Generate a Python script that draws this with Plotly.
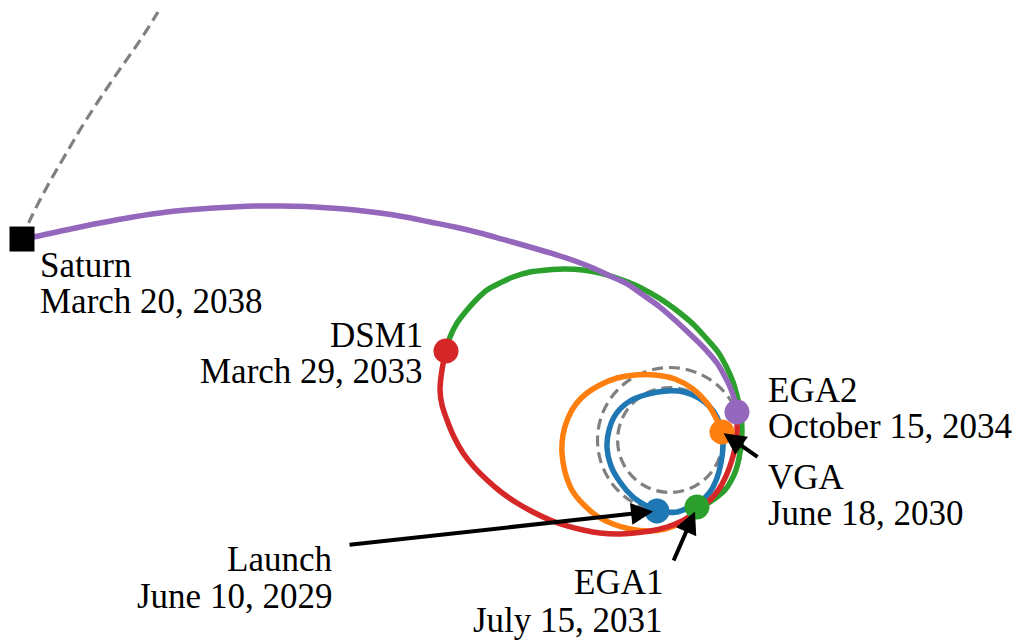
import plotly.graph_objects as go

# ---------------- data (heliocentric, AU) ----------------
EVENT_NAMES = ["Launch", "VGA", "EGA1", "DSM1", "EGA2", "Saturn"]
EVENT_DATES = ["June 10, 2029", "June 18, 2030", "July 15, 2031",
               "March 29, 2033", "October 15, 2034", "March 20, 2038"]
EVENT_X = [-0.179, 0.717, 0.372, -3.090, 0.924, -8.938]
EVENT_Y = [-0.979, 0.110, -0.924, 1.228, 0.386, 2.772]

ORBIT_NAMES = ["Venus", "Earth"]
ORBIT_RADII = [0.723, 1.0]

SATURN_ARC_X = [-8.938, -8.828, -8.676, -8.510, -8.317, -8.097, -7.848, -7.586, -7.324, -7.062]
SATURN_ARC_Y = [2.772, 3.034, 3.338, 3.641, 3.972, 4.345, 4.731, 5.117, 5.490, 5.903]

# Launch -> VGA
LEG1_X = [-0.179, 0.097, 0.276, 0.414, 0.552, 0.648, 0.703, 0.731, 0.717, 0.648, 0.538, 0.400,
          0.193, -0.041, -0.303, -0.552, -0.745, -0.841, -0.869, -0.814, -0.690, -0.510, -0.345,
          -0.179, 0.097, 0.276, 0.414, 0.552, 0.648, 0.703, 0.731, 0.717]
LEG1_Y = [-0.979, -0.993, -0.924, -0.855, -0.717, -0.524, -0.317, -0.097, 0.110, 0.317, 0.469, 0.579,
          0.662, 0.676, 0.634, 0.538, 0.359, 0.138, -0.110, -0.359, -0.579, -0.786, -0.897,
          -0.979, -0.993, -0.924, -0.855, -0.717, -0.524, -0.317, -0.097, 0.110]

# VGA -> EGA1
LEG2_X = [0.717, 0.634, 0.510, 0.317, 0.069, -0.207, -0.483, -0.731, -0.966, -1.145, -1.297,
          -1.407, -1.476, -1.490, -1.448, -1.352, -1.200, -1.007, -0.786, -0.552, -0.303,
          -0.069, 0.138, 0.276, 0.372]
LEG2_Y = [0.110, 0.303, 0.510, 0.703, 0.841, 0.897, 0.897, 0.855, 0.759, 0.648, 0.497,
          0.303, 0.069, -0.179, -0.441, -0.690, -0.883, -1.048, -1.159, -1.228, -1.255,
          -1.228, -1.145, -1.048, -0.924]

# EGA1 -> DSM1
LEG3_X = [0.372, 0.524, 0.648, 0.759, 0.841, 0.910, 0.952, 0.979, 0.993, 0.979, 0.938, 0.869,
          0.772, 0.662, 0.497, 0.317, 0.138, -0.028, -0.248, -0.483, -0.731, -0.966, -1.200,
          -1.448, -1.697, -1.931, -2.166, -2.345, -2.524, -2.662, -2.800, -2.938, -3.034, -3.090]
LEG3_Y = [-0.924, -0.869, -0.786, -0.690, -0.566, -0.414, -0.248, -0.069, 0.138, 0.345, 0.552, 0.800,
          1.021, 1.214, 1.407, 1.600, 1.752, 1.876, 2.014, 2.138, 2.234, 2.303, 2.345,
          2.359, 2.345, 2.317, 2.248, 2.166, 2.069, 1.945, 1.793, 1.614, 1.421, 1.228]

# DSM1 -> EGA2
LEG4_X = [-3.090, -3.145, -3.172, -3.145, -3.076, -2.979, -2.855, -2.703, -2.524, -2.331, -2.110,
          -1.890, -1.655, -1.421, -1.200, -0.966, -0.731, -0.497, -0.276, -0.041, 0.166, 0.317,
          0.441, 0.566, 0.676, 0.772, 0.841, 0.897, 0.924, 0.924, 0.924]
LEG4_Y = [1.228, 0.966, 0.690, 0.483, 0.276, 0.041, -0.179, -0.372, -0.552, -0.717, -0.869,
          -0.993, -1.103, -1.186, -1.241, -1.283, -1.297, -1.283, -1.255, -1.200, -1.117, -1.021,
          -0.924, -0.814, -0.676, -0.497, -0.317, -0.110, 0.097, 0.276, 0.386]

# EGA2 -> Saturn
LEG5_X = [0.924, 0.883, 0.828, 0.745, 0.648, 0.497, 0.317, 0.097, -0.138, -0.372, -0.593, -0.828,
          -1.062, -1.310, -1.517, -1.931, -2.276, -2.621, -2.966, -3.310, -3.655, -4.000, -4.345,
          -4.690, -5.034, -5.379, -5.724, -6.028, -6.483, -6.938, -7.407, -7.862, -8.331, -8.786,
          -8.938]
LEG5_Y = [0.386, 0.579, 0.731, 0.897, 1.062, 1.241, 1.421, 1.628, 1.834, 2.000, 2.152, 2.262,
          2.372, 2.469, 2.538, 2.662, 2.759, 2.855, 2.938, 3.007, 3.076, 3.131, 3.172,
          3.200, 3.221, 3.228, 3.228, 3.214, 3.186, 3.145, 3.076, 2.993, 2.897, 2.800,
          2.772]

LEGS_X = [LEG1_X, LEG2_X, LEG3_X, LEG4_X, LEG5_X]
LEGS_Y = [LEG1_Y, LEG2_Y, LEG3_Y, LEG4_Y, LEG5_Y]

# ---------------- styles ----------------
LEG_COLORS = ["#1f77b4", "#ff7f0e", "#2ca02c", "#d62728", "#9467bd"]
EVENT_COLORS = ["#1f77b4", "#ff7f0e", "#2ca02c", "#d62728", "#9467bd", "#000000"]
EVENT_SYMBOLS = ["circle"] * 5 + ["square"]
EVENT_SIZES = [25] * 5 + [25]
GRAY = "#808080"
DASH = "11px,6px"
FONT = dict(family="Liberation Serif, Times New Roman, serif", size=35, color="black")

# label placement (xanchor, xshift, yshift line 1, yshift line 2) in pixels from the event marker
LABEL_POS = {
    "Launch": ("right", -323, -49, -86),
    "VGA": ("left", 44, -45, -81),
    "EGA1": ("right", -32, -76, -114),
    "DSM1": ("right", -21, 15, -21),
    "EGA2": ("left", 29, 22, -14),
    "Saturn": ("left", 16, -26, -62),
}
# arrows (ax, ay, standoff) in pixels
ARROWS = {
    "Launch": (-309, 34, 4),
    "VGA": (37, 26, 2),
    "EGA1": (-24, 55, 5),
}

fig = go.Figure()

# planetary orbits
shapes = []
for r in ORBIT_RADII:
    shapes.append(dict(type="circle", xref="x", yref="y", x0=-r, y0=-r, x1=r, y1=r,
                       line=dict(color=GRAY, width=3.2, dash=DASH), layer="below"))

fig.add_trace(go.Scatter(x=SATURN_ARC_X, y=SATURN_ARC_Y, mode="lines",
                         line=dict(color=GRAY, width=3.2, dash=DASH, shape="spline"),
                         hoverinfo="skip"))

for lx, ly, c in zip(LEGS_X, LEGS_Y, LEG_COLORS):
    fig.add_trace(go.Scatter(x=lx, y=ly, mode="lines",
                             line=dict(color=c, width=5.5, shape="spline", smoothing=1.0),
                             hoverinfo="skip"))

for i, name in enumerate(EVENT_NAMES):
    fig.add_trace(go.Scatter(x=[EVENT_X[i]], y=[EVENT_Y[i]], mode="markers",
                             marker=dict(color=EVENT_COLORS[i], size=EVENT_SIZES[i],
                                         symbol=EVENT_SYMBOLS[i], line=dict(width=0)),
                             name=name))

annotations = []
for i, name in enumerate(EVENT_NAMES):
    xa, xs, ys1, ys2 = LABEL_POS[name]
    for txt, ys in ((name, ys1), (EVENT_DATES[i], ys2)):
        annotations.append(dict(x=EVENT_X[i], y=EVENT_Y[i], xref="x", yref="y", text=txt,
                                showarrow=False, xanchor=xa, yanchor="middle",
                                xshift=xs, yshift=ys, font=FONT))
    if name in ARROWS:
        ax, ay, so = ARROWS[name]
        annotations.append(dict(x=EVENT_X[i], y=EVENT_Y[i], xref="x", yref="y", text="",
                                showarrow=True, ax=ax, ay=ay, arrowhead=2, arrowsize=1.1,
                                arrowwidth=4, arrowcolor="black", standoff=so))

fig.update_layout(
    width=1020, height=643,
    margin=dict(l=0, r=0, t=0, b=0),
    paper_bgcolor="white", plot_bgcolor="white",
    showlegend=False,
    xaxis=dict(visible=False, range=[-9.2414, 4.8276]),
    yaxis=dict(visible=False, range=[-2.8, 6.069]),
    shapes=shapes, annotations=annotations,
)

fig.write_html("out.html")
